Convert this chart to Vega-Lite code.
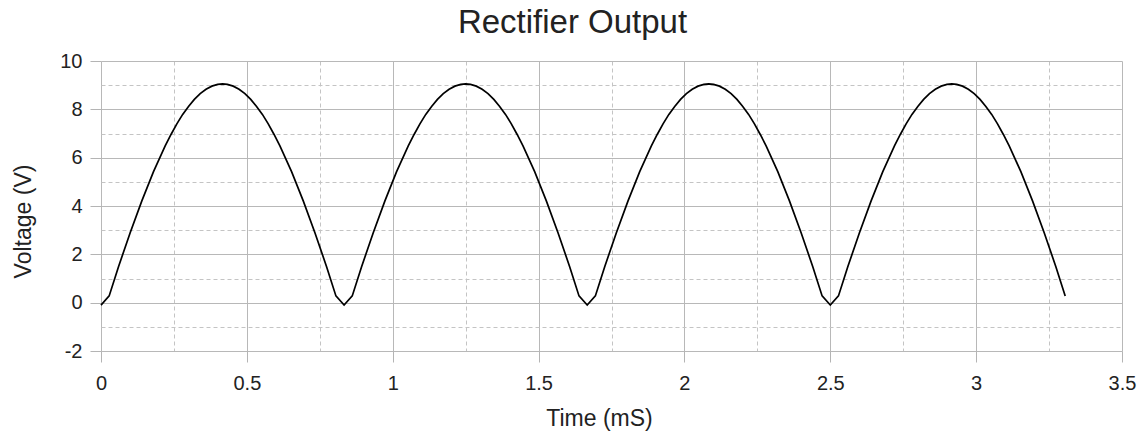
{
  "$schema": "https://vega.github.io/schema/vega-lite/v6.json",
  "width": 1021,
  "height": 290,
  "autosize": {"type": "none"},
  "padding": {"left": 101, "top": 61, "right": 21, "bottom": 82},
  "background": "white",
  "title": {
    "text": "Rectifier Output",
    "fontSize": 33,
    "font": "Liberation Sans",
    "fontWeight": "normal",
    "color": "#222222",
    "anchor": "middle",
    "dx": -39,
    "baseline": "alphabetic",
    "offset": -15
  },
  "config": {
    "view": {"stroke": null},
    "axis": {
      "labelFont": "Liberation Sans",
      "titleFont": "Liberation Sans",
      "labelColor": "#222222",
      "titleColor": "#222222",
      "titleFontWeight": "normal",
      "domain": false,
      "tickColor": "#b4b4b4",
      "tickSize": 11
    }
  },
  "data": {
    "values": [
      {"t": 0, "v": -0.1}, {"t": 0.028, "v": 0.28}, {"t": 0.06, "v": 1.49}, {"t": 0.1, "v": 2.89}, {"t": 0.14, "v": 4.21}, {"t": 0.18, "v": 5.42}, {"t": 0.22, "v": 6.49}, {"t": 0.24, "v": 6.96}, {"t": 0.26, "v": 7.4}, {"t": 0.28, "v": 7.79}, {"t": 0.3, "v": 8.12}, {"t": 0.32, "v": 8.41}, {"t": 0.34, "v": 8.65}, {"t": 0.36, "v": 8.83}, {"t": 0.38, "v": 8.96}, {"t": 0.4, "v": 9.03}, {"t": 0.4167, "v": 9.05}, {"t": 0.4333, "v": 9.03}, {"t": 0.4533, "v": 8.96}, {"t": 0.4733, "v": 8.83}, {"t": 0.4933, "v": 8.65}, {"t": 0.5133, "v": 8.41}, {"t": 0.5333, "v": 8.12}, {"t": 0.5533, "v": 7.79}, {"t": 0.5733, "v": 7.4}, {"t": 0.5933, "v": 6.96}, {"t": 0.6133, "v": 6.49}, {"t": 0.6533, "v": 5.42}, {"t": 0.6933, "v": 4.21}, {"t": 0.7333, "v": 2.89}, {"t": 0.7733, "v": 1.49}, {"t": 0.8053, "v": 0.28},
      {"t": 0.8333, "v": -0.1}, {"t": 0.8613, "v": 0.28}, {"t": 0.8933, "v": 1.49}, {"t": 0.9333, "v": 2.89}, {"t": 0.9733, "v": 4.21}, {"t": 1.0133, "v": 5.42}, {"t": 1.0533, "v": 6.49}, {"t": 1.0733, "v": 6.96}, {"t": 1.0933, "v": 7.4}, {"t": 1.1133, "v": 7.79}, {"t": 1.1333, "v": 8.12}, {"t": 1.1533, "v": 8.41}, {"t": 1.1733, "v": 8.65}, {"t": 1.1933, "v": 8.83}, {"t": 1.2133, "v": 8.96}, {"t": 1.2333, "v": 9.03}, {"t": 1.25, "v": 9.05}, {"t": 1.2666, "v": 9.03}, {"t": 1.2866, "v": 8.96}, {"t": 1.3066, "v": 8.83}, {"t": 1.3266, "v": 8.65}, {"t": 1.3466, "v": 8.41}, {"t": 1.3666, "v": 8.12}, {"t": 1.3866, "v": 7.79}, {"t": 1.4066, "v": 7.4}, {"t": 1.4266, "v": 6.96}, {"t": 1.4466, "v": 6.49}, {"t": 1.4866, "v": 5.42}, {"t": 1.5266, "v": 4.21}, {"t": 1.5666, "v": 2.89}, {"t": 1.6066, "v": 1.49}, {"t": 1.6386, "v": 0.28},
      {"t": 1.6667, "v": -0.1}, {"t": 1.6947, "v": 0.28}, {"t": 1.7267, "v": 1.49}, {"t": 1.7667, "v": 2.89}, {"t": 1.8067, "v": 4.21}, {"t": 1.8467, "v": 5.42}, {"t": 1.8867, "v": 6.49}, {"t": 1.9067, "v": 6.96}, {"t": 1.9267, "v": 7.4}, {"t": 1.9467, "v": 7.79}, {"t": 1.9667, "v": 8.12}, {"t": 1.9867, "v": 8.41}, {"t": 2.0067, "v": 8.65}, {"t": 2.0267, "v": 8.83}, {"t": 2.0467, "v": 8.96}, {"t": 2.0667, "v": 9.03}, {"t": 2.0834, "v": 9.05}, {"t": 2.1, "v": 9.03}, {"t": 2.12, "v": 8.96}, {"t": 2.14, "v": 8.83}, {"t": 2.16, "v": 8.65}, {"t": 2.18, "v": 8.41}, {"t": 2.2, "v": 8.12}, {"t": 2.22, "v": 7.79}, {"t": 2.24, "v": 7.4}, {"t": 2.26, "v": 6.96}, {"t": 2.28, "v": 6.49}, {"t": 2.32, "v": 5.42}, {"t": 2.36, "v": 4.21}, {"t": 2.4, "v": 2.89}, {"t": 2.44, "v": 1.49}, {"t": 2.472, "v": 0.28},
      {"t": 2.5, "v": -0.1}, {"t": 2.528, "v": 0.28}, {"t": 2.56, "v": 1.49}, {"t": 2.6, "v": 2.89}, {"t": 2.64, "v": 4.21}, {"t": 2.68, "v": 5.42}, {"t": 2.72, "v": 6.49}, {"t": 2.74, "v": 6.96}, {"t": 2.76, "v": 7.4}, {"t": 2.78, "v": 7.79}, {"t": 2.8, "v": 8.12}, {"t": 2.82, "v": 8.41}, {"t": 2.84, "v": 8.65}, {"t": 2.86, "v": 8.83}, {"t": 2.88, "v": 8.96}, {"t": 2.9, "v": 9.03}, {"t": 2.9167, "v": 9.05}, {"t": 2.9333, "v": 9.03}, {"t": 2.9533, "v": 8.96}, {"t": 2.9733, "v": 8.83}, {"t": 2.9933, "v": 8.65}, {"t": 3.0133, "v": 8.41}, {"t": 3.0333, "v": 8.12}, {"t": 3.0533, "v": 7.79}, {"t": 3.0733, "v": 7.4}, {"t": 3.0933, "v": 6.96}, {"t": 3.1133, "v": 6.49}, {"t": 3.1533, "v": 5.42}, {"t": 3.1933, "v": 4.21}, {"t": 3.2333, "v": 2.89}, {"t": 3.2733, "v": 1.49}, {"t": 3.3053, "v": 0.28}
    ]
  },
  "mark": {"type": "line", "color": "#000000", "strokeWidth": 1.7},
  "encoding": {
    "x": {
      "field": "t",
      "type": "quantitative",
      "scale": {"domain": [0, 3.5], "nice": false, "zero": false},
      "axis": {
        "title": "Time (mS)",
        "titleFontSize": 23,
        "labelFontSize": 20,
        "values": [0, 0.25, 0.5, 0.75, 1, 1.25, 1.5, 1.75, 2, 2.25, 2.5, 2.75, 3, 3.25, 3.5],
        "labelExpr": "datum.value % 0.5 === 0 ? '' + datum.value : ''",
        "labelPadding": 11,
        "labelFlush": false,
        "labelOverlap": false,
        "grid": true,
        "gridColor": {"condition": {"test": "datum.value % 0.5 !== 0", "value": "#c4c4c4"}, "value": "#b8b8b8"},
        "gridDash": {"condition": {"test": "datum.value % 0.5 !== 0", "value": [4, 3]}, "value": []},
        "tickOpacity": {"condition": {"test": "datum.value % 0.5 !== 0", "value": 0}, "value": 1},
        "titleX": 498,
        "titleY": 74,
        "titleAlign": "center",
        "titleBaseline": "alphabetic"
      }
    },
    "y": {
      "field": "v",
      "type": "quantitative",
      "scale": {"domain": [-2, 10], "nice": false, "zero": false},
      "axis": {
        "title": "Voltage (V)",
        "titleFontSize": 23,
        "labelFontSize": 20,
        "values": [-2, -1, 0, 1, 2, 3, 4, 5, 6, 7, 8, 9, 10],
        "labelExpr": "datum.value % 2 === 0 ? '' + datum.value : ''",
        "labelPadding": 8,
        "labelFlush": false,
        "labelOverlap": false,
        "grid": true,
        "gridColor": {"condition": {"test": "datum.value % 2 !== 0", "value": "#c4c4c4"}, "value": "#b8b8b8"},
        "gridDash": {"condition": {"test": "datum.value % 2 !== 0", "value": [4, 3]}, "value": []},
        "tickOpacity": {"condition": {"test": "datum.value % 2 !== 0", "value": 0}, "value": 1},
        "titleX": -78,
        "titleY": 160,
        "titleAngle": -90,
        "titleAlign": "center",
        "titleBaseline": "middle"
      }
    }
  }
}
